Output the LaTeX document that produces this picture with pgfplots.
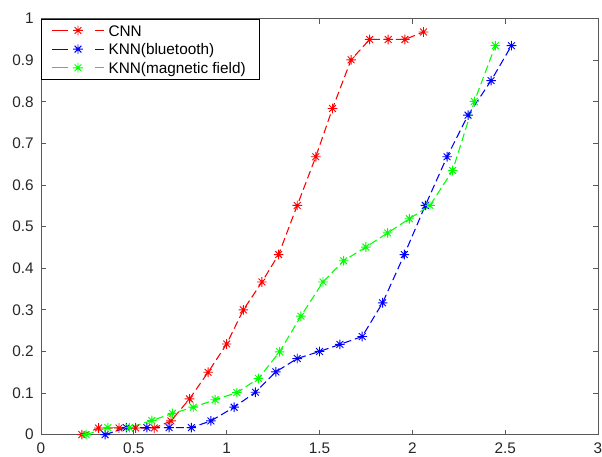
\documentclass[border=0pt]{standalone}
\usepackage{fontspec}
\setmainfont{Liberation Sans}
\usepackage{pgfplots}
\pgfplotsset{compat=1.18}

% MATLAB-style 8-arm asterisk
\pgfdeclareplotmark{mstar}{%
  \pgfpathmoveto{\pgfqpoint{-\pgfplotmarksize}{0pt}}\pgfpathlineto{\pgfqpoint{\pgfplotmarksize}{0pt}}%
  \pgfpathmoveto{\pgfqpoint{0pt}{-\pgfplotmarksize}}\pgfpathlineto{\pgfqpoint{0pt}{\pgfplotmarksize}}%
  \pgfpathmoveto{\pgfqpoint{-0.707\pgfplotmarksize}{-0.707\pgfplotmarksize}}\pgfpathlineto{\pgfqpoint{0.707\pgfplotmarksize}{0.707\pgfplotmarksize}}%
  \pgfpathmoveto{\pgfqpoint{-0.707\pgfplotmarksize}{0.707\pgfplotmarksize}}\pgfpathlineto{\pgfqpoint{0.707\pgfplotmarksize}{-0.707\pgfplotmarksize}}%
  \pgfusepathqstroke}

\pgfplotsset{
  mline/.style={line width=0.8pt, dash pattern=on 6pt off 3pt, mark=mstar, mark size=3.6pt,
    mark options={solid, line width=0.7pt}},
  % legend sample: dash, star, dash, in one fixed colour
  mleg/.style={legend image code/.code={%
    \draw[draw=#1, solid, line width=0.8pt] (0pt,0pt)--(11.8pt,0pt) (32.5pt,0pt)--(39pt,0pt);
    \path[draw=#1, solid, line width=0.7pt, mark=mstar, mark size=3.6pt]
      plot[only marks] coordinates {(19.5pt,0pt)};}},
}

\begin{document}
\begin{tikzpicture}
\begin{axis}[
  scale only axis, width=417.75pt, height=312pt,
  xmin=0, xmax=3, ymin=0, ymax=1,
  xtick={0,0.5,...,3}, ytick={0,0.1,...,1},
  tick align=inside, major tick length=3.75pt,
  axis line style={black!65, line width=0.7pt},
  tick style={black!65, line width=0.7pt},
  /pgf/number format/assume math mode=true,
  tick label style={font=\fontsize{11.5}{13}\selectfont, text=black!85},
  yticklabel style={xshift=-2pt},
  xticklabel style={yshift=-2.5pt},
  legend cell align=left,
  legend style={at={(0,1)}, anchor=north west, line width=0.7pt,
    font=\fontsize{11.5}{13}\selectfont, row sep=0pt, inner xsep=7.5pt, inner ysep=1.5pt,
    nodes={inner xsep=3pt, inner ysep=1.25pt, text height=10pt, text depth=1.5pt}},
]
\coordinate (sw) at (rel axis cs:0,0);
\coordinate (ne) at (rel axis cs:1,1);

\addplot[mline, red, mleg=red] coordinates {
 (0.22,0) (0.31,0.016) (0.42,0.016) (0.51,0.016) (0.61,0.016) (0.70,0.033)
 (0.80,0.086) (0.90,0.150) (1.00,0.218) (1.09,0.300) (1.19,0.367) (1.28,0.433)
 (1.38,0.551) (1.48,0.668) (1.57,0.784) (1.67,0.901) (1.77,0.950) (1.87,0.950)
 (1.96,0.950) (2.06,0.968)};
\addlegendentry{CNN}

\addplot[mline, blue, mleg=blue] coordinates {
 (0.345,0) (0.46,0.017) (0.57,0.017) (0.69,0.017) (0.81,0.017) (0.915,0.033)
 (1.04,0.066) (1.155,0.102) (1.265,0.151) (1.38,0.183) (1.50,0.200) (1.61,0.217)
 (1.73,0.236) (1.84,0.317) (1.957,0.433) (2.07,0.551) (2.187,0.668) (2.30,0.768)
 (2.424,0.851) (2.534,0.935)};
\addlegendentry{KNN(bluetooth)}

\addplot[mline, green, mleg=green] coordinates {
 (0.243,0) (0.36,0.017) (0.476,0.017) (0.597,0.034) (0.708,0.051) (0.82,0.066)
 (0.938,0.084) (1.055,0.101) (1.171,0.135) (1.285,0.199) (1.40,0.285) (1.519,0.367)
 (1.63,0.418) (1.75,0.451) (1.867,0.485) (1.984,0.519) (2.095,0.551) (2.217,0.635)
 (2.334,0.801) (2.447,0.935)};
\addlegendentry{KNN(magnetic field)}
\end{axis}
\pgfresetboundingbox
\path[use as bounding box] ([shift={(-30.75pt,-16pt)}]sw) rectangle ([shift={(3pt,14pt)}]ne);
\end{tikzpicture}
\end{document}
